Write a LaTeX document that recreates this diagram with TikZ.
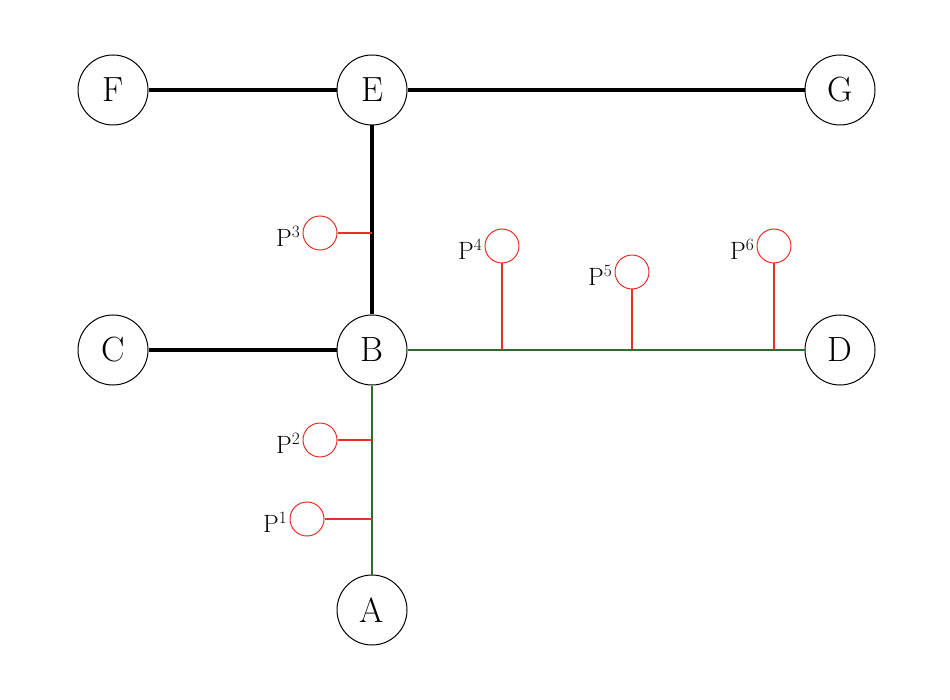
\documentclass[tikz,border=0pt]{standalone}
\usepackage{fontspec}
\definecolor{pred}{HTML}{E63025}
\definecolor{pgreen}{HTML}{2F6B2A}
\begin{document}
\begin{tikzpicture}[x=1pt,y=-1pt,
  vtx/.style={circle,draw,line width=1pt,minimum size=70pt,inner sep=0pt,font=\fontsize{35}{40}\selectfont},
  pc/.style={circle,draw=pred,line width=1pt,minimum size=34pt,inner sep=0pt},
  plab/.style={font=\fontsize{25}{30}\selectfont,inner sep=2pt},
  heavy/.style={line width=4pt},
  grn/.style={line width=2pt,draw=pgreen},
  rd/.style={line width=2.5pt,draw=pred}]
\useasboundingbox (0,0) rectangle (950,700);
\node[vtx] (F) at (113,90) {F};
\node[vtx] (E) at (372,90) {E};
\node[vtx] (G) at (840,90) {G};
\node[vtx] (C) at (113,350) {C};
\node[vtx] (B) at (372,350) {B};
\node[vtx] (D) at (840,350) {D};
\node[vtx] (A) at (372,610) {A};
\draw[heavy] (F) -- (E);
\draw[heavy] (E) -- (G);
\draw[heavy] (E) -- (B);
\draw[heavy] (C) -- (B);
\draw[grn] (B) -- (D);
\draw[grn] (B) -- (A);
\coordinate (a3) at (372,233);
\coordinate (a4) at (502,350);
\coordinate (a5) at (632,350);
\coordinate (a6) at (774,350);
\coordinate (a2) at (372,440);
\coordinate (a1) at (372,519);
\node[pc] (p3) at (320,233) {};
\node[pc] (p4) at (502,246) {};
\node[pc] (p5) at (632,272) {};
\node[pc] (p6) at (774,246) {};
\node[pc] (p2) at (320,440) {};
\node[pc] (p1) at (307,519) {};
\draw[rd] (p3) -- (a3);
\draw[rd] (p4) -- (a4);
\draw[rd] (p5) -- (a5);
\draw[rd] (p6) -- (a6);
\draw[rd] (p2) -- (a2);
\draw[rd] (p1) -- (a1);
\node[plab,left] (l3) at ([yshift=-3pt]p3.west) {P$^3$};
\node[plab,left] (l4) at ([yshift=-3pt]p4.west) {P$^4$};
\node[plab,left] (l5) at ([yshift=-3pt]p5.west) {P$^5$};
\node[plab,left] (l6) at ([yshift=-3pt]p6.west) {P$^6$};
\node[plab,left] (l2) at ([yshift=-3pt]p2.west) {P$^2$};
\node[plab,left] (l1) at ([yshift=-3pt]p1.west) {P$^1$};
\end{tikzpicture}
\end{document}
